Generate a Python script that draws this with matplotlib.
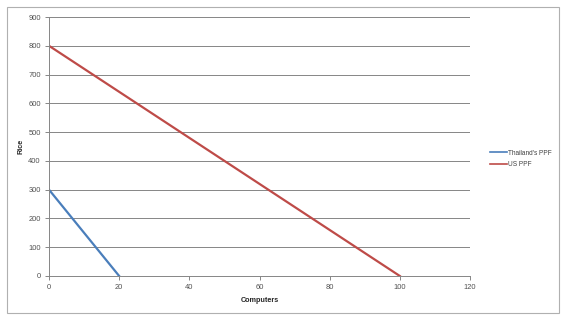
import matplotlib.pyplot as plt
from matplotlib.patches import Rectangle

# PPF data: computers (x) vs rice (y)
thai_computers = [0, 20]
thai_rice = [300, 0]
us_computers = [0, 100]
us_rice = [800, 0]

x_ticks = [0, 20, 40, 60, 80, 100, 120]
y_ticks = [0, 100, 200, 300, 400, 500, 600, 700, 800, 900]

blue = '#4a7ebb'
red = '#be4b48'
grid_gray = '#868686'
text_col = '#404040'

plt.rcParams['font.family'] = ['Liberation Sans', 'DejaVu Sans']

fig = plt.figure(figsize=(5.72, 3.32), dpi=100)
fig.patch.set_facecolor('white')

# chart frame like excel
frame = Rectangle((7 / 572, 1 - 313 / 332), (559 - 7) / 572, (313 - 7) / 332,
                  transform=fig.transFigure, fill=False, edgecolor='#b0b0b0', lw=0.8)
fig.patches.append(frame)

ax = fig.add_axes([49 / 572, 1 - 276 / 332, (470 - 49) / 572, (276 - 17) / 332])

ax.plot(thai_computers, thai_rice, color=blue, lw=1.6, label="Thailand's PPF")
ax.plot(us_computers, us_rice, color=red, lw=1.6, label='US PPF')

ax.set_xlim(0, 120)
ax.set_ylim(0, 900)
ax.set_xticks(x_ticks)
ax.set_yticks(y_ticks)
ax.yaxis.grid(True, color=grid_gray, lw=0.7)
ax.set_axisbelow(True)

for s in ['top', 'right']:
    ax.spines[s].set_visible(False)
for s in ['left', 'bottom']:
    ax.spines[s].set_color(grid_gray)
    ax.spines[s].set_linewidth(0.7)

ax.tick_params(axis='both', labelsize=5.4, colors=grid_gray, labelcolor='#505050',
               length=3, width=0.7, pad=3)

ax.set_xlabel('Computers', fontsize=5.2, fontweight='bold', color='#262626', labelpad=4)
ax.set_ylabel('Rice', fontsize=5.2, fontweight='bold', color='#262626', labelpad=3)

leg = fig.legend(loc='center left', bbox_to_anchor=(484 / 572, 1 - 159 / 332),
                 frameon=False, fontsize=4.7, handlelength=2.6, handletextpad=0.15,
                 labelspacing=0.75)
for t in leg.get_texts():
    t.set_color(text_col)
for h in leg.get_lines():
    h.set_linewidth(1.2)

fig.savefig('out.png', dpi=100)
